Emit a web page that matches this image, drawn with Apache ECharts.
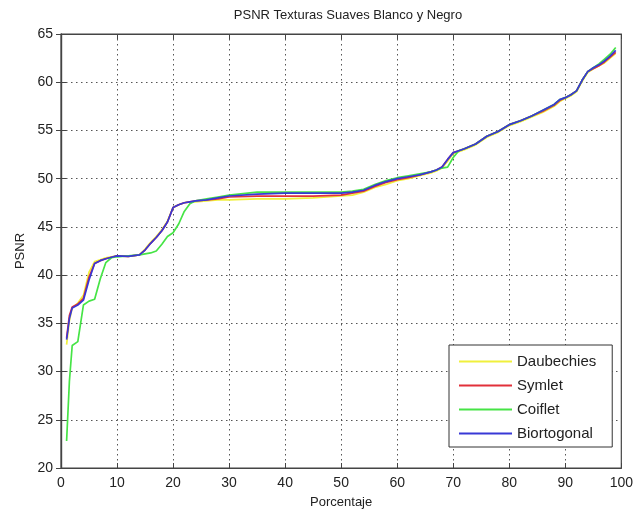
<!DOCTYPE html>
<html>
<head>
<meta charset="utf-8">
<script src="https://cdn.jsdelivr.net/npm/echarts@6/dist/echarts.min.js"></script>
<style>
  html, body { margin: 0; padding: 0; background: #fff; }
  #main { width: 636px; height: 516px; }
</style>
</head>
<body>
<div id="main"></div>
<script>
// porcentaje (eje x) comun a las cuatro curvas
var pct = [1, 1.5, 2, 3, 4, 5, 6, 7, 8, 9, 10, 12, 14, 15, 16, 17, 18, 19, 20, 21, 22, 23, 24, 26, 28, 30, 35, 40, 45, 50,
           52, 54, 56, 58, 60, 62, 64, 66, 67, 68, 69, 70, 71, 72, 74, 76, 78, 80, 82, 84, 86, 88, 89, 90, 91, 92, 93, 94,
           95, 96, 97, 98, 99];

var daubechies = [32.8, 35.3, 36.6, 37.1, 37.9, 40.3, 41.4, 41.6, 41.8, 41.9, 42.0, 41.95, 42.1, 42.7, 43.4, 44.0, 44.7, 45.6, 47.0, 47.3,
                  47.5, 47.6, 47.6, 47.7, 47.8, 47.8, 47.9, 47.9, 48.0, 48.2,
                  48.3, 48.6, 49.1, 49.4, 49.8, 50.0, 50.3, 50.6, 50.8, 51.1, 51.8, 52.6, 52.8, 53.0, 53.5, 54.3, 54.8, 55.5, 55.9, 56.4, 56.9, 57.5, 58.0, 58.3, 58.6, 59.0,
                  60.1, 61.0, 61.4, 61.7, 62.0, 62.5, 63.0];

var symlet = [33.5, 35.8, 36.7, 37.0, 37.6, 39.8, 41.2, 41.5, 41.7, 41.85, 42.0, 41.95, 42.1, 42.6, 43.3, 43.9, 44.6, 45.5, 47.0, 47.3,
              47.5, 47.6, 47.7, 47.8, 47.9, 48.1, 48.2, 48.2, 48.2, 48.3,
              48.5, 48.7, 49.2, 49.6, 49.9, 50.1, 50.4, 50.7, 50.9, 51.2, 52.0, 52.7, 52.9, 53.1, 53.6, 54.4, 54.9, 55.6, 56.0, 56.5, 57.0, 57.6, 58.1, 58.4, 58.7, 59.1,
              60.2, 61.1, 61.4, 61.7, 62.1, 62.6, 63.1];

var coiflet = [22.8, 29.0, 32.7, 33.1, 36.9, 37.3, 37.5, 39.6, 41.3, 41.8, 41.9, 42.0, 42.1, 42.2, 42.3, 42.5, 43.2, 44.0, 44.4, 45.3,
               46.6, 47.4, 47.7, 47.9, 48.1, 48.3, 48.6, 48.6, 48.6, 48.6,
               48.7, 48.9, 49.4, 49.8, 50.1, 50.3, 50.5, 50.7, 50.9, 51.1, 51.2, 52.2, 52.9, 53.1, 53.6, 54.4, 54.9, 55.6, 56.0, 56.5, 57.1, 57.7, 58.2, 58.4, 58.7, 59.1,
               60.2, 61.1, 61.5, 61.9, 62.4, 62.9, 63.6];

var biortogonal = [33.3, 35.5, 36.6, 36.9, 37.4, 39.5, 41.2, 41.5, 41.7, 41.85, 42.0, 41.95, 42.1, 42.6, 43.3, 43.9, 44.6, 45.5, 47.0, 47.3,
                   47.5, 47.6, 47.7, 47.8, 48.0, 48.2, 48.4, 48.5, 48.5, 48.5,
                   48.6, 48.8, 49.3, 49.7, 50.0, 50.2, 50.4, 50.7, 50.9, 51.2, 52.0, 52.7, 52.9, 53.1, 53.6, 54.4, 54.9, 55.6, 56.0, 56.5, 57.1, 57.7, 58.2, 58.4, 58.7, 59.1,
                   60.2, 61.1, 61.5, 61.8, 62.2, 62.7, 63.3];

var nombres = ["Daubechies", "Symlet", "Coiflet", "Biortogonal"];
var colores = ["#f0f03c", "#e2303a", "#46e446", "#3838d6"];
var valores = [daubechies, symlet, coiflet, biortogonal];

var fuente = "Liberation Sans, Arial, sans-serif";

function pares(ys) {
    var out = [];
    for (var i = 0; i < pct.length; i++) out.push([pct[i], ys[i]]);
    return out;
}

var series = [];
for (var k = 0; k < nombres.length; k++) {
    series.push({
        name: nombres[k],
        type: "line",
        data: pares(valores[k]),
        symbol: "none",
        smooth: false,
        lineStyle: { color: colores[k], width: 1.7 },
        itemStyle: { color: colores[k] },
        z: 2 + k
    });
}

var grid_line = { show: true, lineStyle: { color: "#555", type: [1.5, 3.5], width: 1 } };
var etiqueta = { color: "#222", fontSize: 14, fontFamily: fuente };

var chart = echarts.init(document.getElementById("main"), null, { renderer: "canvas" });
chart.setOption({
    backgroundColor: "#fff",
    animation: false,
    title: {
        text: "PSNR Texturas Suaves Blanco y Negro",
        left: 343, top: 4, textAlign: "center",
        textStyle: { color: "#222", fontSize: 13, fontWeight: "normal", fontFamily: fuente }
    },
    grid: { left: 61, right: 10, top: 34, bottom: 48, show: true, borderColor: "#444", borderWidth: 1.2, backgroundColor: "#fff" },
    legend: {
        orient: "vertical",
        left: 449, top: 345,
        data: nombres,
        icon: "rect",
        itemWidth: 53, itemHeight: 2, itemGap: 9,
        padding: [9, 16, 6, 10],
        borderColor: "#333", borderWidth: 1, borderRadius: 0,
        backgroundColor: "#fff",
        textStyle: { color: "#222", fontSize: 15, fontFamily: fuente }
    },
    xAxis: [{
        type: "value", min: 0, max: 100, interval: 10,
        name: "Porcentaje", nameLocation: "middle", nameGap: 28,
        nameTextStyle: { color: "#222", fontSize: 13, fontFamily: fuente },
        axisLine: { show: true, lineStyle: { color: "#444", width: 1.2 } },
        axisTick: { inside: true, length: 5, lineStyle: { color: "#444" } },
        axisLabel: etiqueta,
        splitLine: grid_line
    }, {
        type: "value", min: 0, max: 100, interval: 10, position: "top",
        axisLine: { show: true, lineStyle: { color: "#444", width: 1.2 } },
        axisTick: { inside: true, length: 5, lineStyle: { color: "#444" } },
        axisLabel: { show: false }, splitLine: { show: false }
    }],
    yAxis: [{
        type: "value", min: 20, max: 65, interval: 5,
        name: "PSNR", nameLocation: "middle", nameGap: 34,
        nameTextStyle: { color: "#222", fontSize: 13, fontFamily: fuente },
        axisLine: { show: true, lineStyle: { color: "#444", width: 1.2 } },
        axisTick: { inside: true, length: 5, lineStyle: { color: "#444" } },
        axisLabel: etiqueta,
        splitLine: grid_line
    }, {
        type: "value", min: 20, max: 65, interval: 5, position: "right",
        axisLine: { show: true, lineStyle: { color: "#444", width: 1.2 } },
        axisTick: { inside: true, length: 5, lineStyle: { color: "#444" } },
        axisLabel: { show: false }, splitLine: { show: false }
    }],
    series: series
});
</script>
</body>
</html>
